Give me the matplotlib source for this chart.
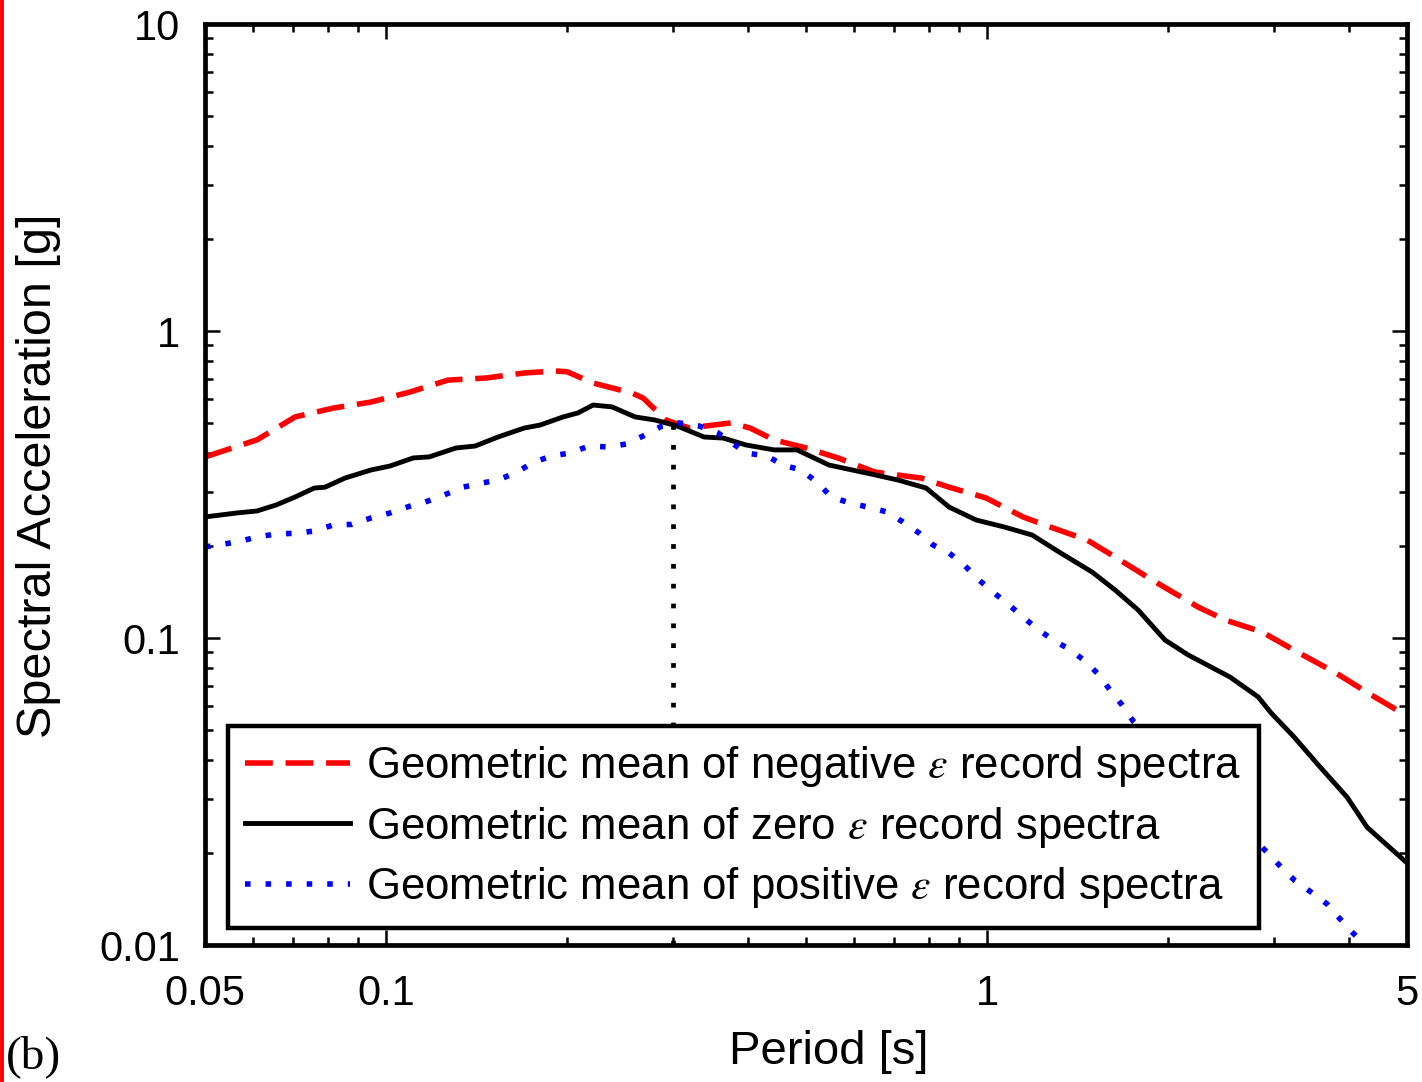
import matplotlib
matplotlib.use('Agg')
import matplotlib.pyplot as plt
from matplotlib.lines import Line2D
from matplotlib.ticker import LogLocator, NullFormatter

plt.rcParams['font.family'] = ['Liberation Sans', 'DejaVu Sans']
plt.rcParams['mathtext.fontset'] = 'stix'

# negative epsilon records (red dashed)
t_neg = [0.050, 0.0610, 0.0706, 0.0817, 0.0944, 0.1097, 0.1268, 0.1467, 0.1698,
         0.1912, 0.2001, 0.2211, 0.2567, 0.2678, 0.2924, 0.3193, 0.3751, 0.4035,
         0.4423, 0.500, 0.565, 0.651, 0.777, 0.865, 0.996, 1.148, 1.274, 1.467,
         1.634, 1.883, 2.245, 2.490, 2.869, 3.306, 3.809, 4.306, 5.0]
sa_neg = [0.389, 0.442, 0.525, 0.561, 0.587, 0.633, 0.692, 0.703, 0.730,
          0.741, 0.737, 0.677, 0.628, 0.605, 0.513, 0.483, 0.502, 0.483,
          0.442, 0.416, 0.386, 0.347, 0.332, 0.310, 0.286, 0.248, 0.230, 0.2086,
          0.1836, 0.1545, 0.1262, 0.1145, 0.1046, 0.0894, 0.0769, 0.0662, 0.0557]

# zero epsilon records (black solid)
t_zero = [0.050, 0.0565, 0.0610, 0.0656, 0.0706, 0.0760, 0.0792, 0.0855, 0.0944,
          0.1016, 0.1110, 0.1180, 0.1308, 0.1407, 0.1536, 0.1698, 0.1805, 0.1971,
          0.2087, 0.2211, 0.2378, 0.2597, 0.2804, 0.3051, 0.3383, 0.3640, 0.3974,
          0.4423, 0.483, 0.546, 0.651, 0.711, 0.792, 0.865, 0.959, 1.068, 1.189,
          1.318, 1.496, 1.634, 1.784, 1.978, 2.161, 2.538, 2.826, 2.970, 3.243,
          3.583, 3.974, 4.289, 5.0]
sa_zero = [0.248, 0.2555, 0.2593, 0.2711, 0.288, 0.308, 0.310, 0.332, 0.3526,
           0.3634, 0.386, 0.389, 0.416, 0.422, 0.4516, 0.483, 0.494, 0.525,
           0.541, 0.574, 0.566, 0.525, 0.513, 0.4905, 0.4516, 0.448, 0.4253,
           0.410, 0.410, 0.366, 0.340, 0.327, 0.308, 0.267, 0.2424, 0.230, 0.2165,
           0.1906, 0.164, 0.1433, 0.1234, 0.0985, 0.0881, 0.0746, 0.0643, 0.0570, 0.0476,
           0.0380, 0.0303, 0.0242, 0.0185]

# positive epsilon records (blue dotted)
t_pos = [0.050, 0.0565, 0.0610, 0.0656, 0.0706, 0.0760, 0.0817, 0.0878, 0.0944,
         0.1016, 0.1097, 0.1162, 0.1249, 0.1343, 0.1445, 0.1536, 0.1652, 0.175,
         0.1882, 0.2024, 0.2177, 0.2350, 0.2509, 0.2678, 0.2880, 0.3074, 0.332,
         0.357, 0.3766, 0.3974, 0.4305, 0.4577, 0.4905, 0.5236, 0.5504, 0.5918,
         0.634, 0.682, 0.725, 0.771, 0.8135, 0.865, 0.9196, 0.970, 1.023, 1.084,
         1.148, 1.207, 1.288, 1.369, 1.456, 1.536, 1.602, 1.678, 1.750, 2.096,
         2.490, 2.936, 3.097, 3.254, 3.474, 3.680, 3.868, 4.050, 4.289, 5.0]
sa_pos = [0.198, 0.2055, 0.2133, 0.2182, 0.2193, 0.2231, 0.2334, 0.2345, 0.246,
          0.2555, 0.269, 0.2773, 0.2922, 0.310, 0.3198, 0.327, 0.347, 0.3715,
          0.3916, 0.4005, 0.422, 0.419, 0.4285, 0.455, 0.4905, 0.502, 0.4905,
          0.4654, 0.4317, 0.4005, 0.3916, 0.366, 0.3526, 0.3198, 0.288, 0.2753,
          0.267, 0.2573, 0.2387, 0.2198, 0.2009, 0.1892, 0.1716, 0.1545, 0.1412, 0.129,
          0.1171, 0.1078, 0.0985, 0.0921, 0.0842, 0.0758, 0.0677, 0.0605, 0.0537, 0.0380,
          0.0273, 0.0199, 0.0178, 0.0162, 0.0148, 0.0136, 0.01216, 0.01102, 0.00985, 0.0074]

# conditioning period marker
t_star = 0.3
sa_star = [0.01, 0.50]

x_ticks = [0.05, 0.1, 1, 5]
x_labels = ['0.05', '0.1', '1', '5']
y_ticks = [0.01, 0.1, 1, 10]
y_labels = ['0.01', '0.1', '1', '10']

fig = plt.figure(figsize=(14.22, 10.82), dpi=100)
ax = fig.add_axes([0.1442, 0.1266, 0.8453, 0.8512])

ax.plot(t_neg, sa_neg, color='#ff0000', lw=4.0, dashes=(5, 2.3),
        label='Geometric mean of negative $\\varepsilon$ record spectra')
ax.plot(t_zero, sa_zero, color='black', lw=3.5,
        label='Geometric mean of zero $\\varepsilon$ record spectra')
ax.plot(t_pos, sa_pos, color='#0000ff', lw=4.0, linestyle=(0, (1, 2.7)),
        label='Geometric mean of positive $\\varepsilon$ record spectra')
ax.plot([t_star, t_star], sa_star, color='black', lw=3.4, linestyle=(0, (1, 3.2)))

ax.set_xscale('log')
ax.set_yscale('log')
ax.set_xlim(0.05, 5)
ax.set_ylim(0.01, 10)

ax.set_xticks(x_ticks)
ax.set_xticklabels(x_labels)
ax.set_yticks(y_ticks)
ax.set_yticklabels(y_labels)
ax.xaxis.set_minor_locator(LogLocator(base=10, subs=range(2, 10)))
ax.yaxis.set_minor_locator(LogLocator(base=10, subs=range(2, 10)))
ax.xaxis.set_minor_formatter(NullFormatter())
ax.yaxis.set_minor_formatter(NullFormatter())

ax.tick_params(which='both', direction='in', top=True, right=True, width=1.8)
ax.tick_params(which='major', length=11, labelsize=30)
ax.tick_params(axis='x', which='major', pad=21)
ax.tick_params(axis='y', which='major', pad=18)
ax.tick_params(which='minor', length=5.5)
for s in ax.spines.values():
    s.set_linewidth(3.4)

ax.set_xlabel('Period [s]', fontsize=34)
ax.set_ylabel('Spectral Acceleration [g]', fontsize=35)
ax.xaxis.set_label_coords(0.519, -0.092)
ax.yaxis.set_label_coords(-0.12, 0.51)

leg = ax.legend(loc='lower left', bbox_to_anchor=(0.019, 0.0185), fontsize=31.5,
                handlelength=2.4, handletextpad=0.36, borderpad=0.4,
                labelspacing=0.36, fancybox=False, framealpha=1,
                edgecolor='black', borderaxespad=0)
leg.get_frame().set_linewidth(3.2)

fig.text(0.004, 0.013, '(b)', fontsize=34, family='Liberation Serif')
fig.add_artist(Line2D([0.0014, 0.0014], [0, 1], color='red', lw=2.8))

fig.savefig('out.png', dpi=100)
